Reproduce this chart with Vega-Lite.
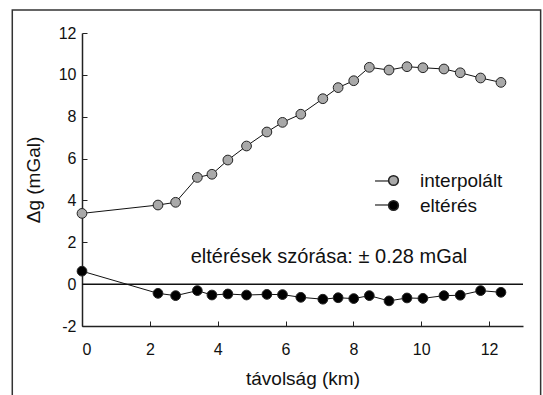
{
  "$schema": "https://vega.github.io/schema/vega-lite/v6.json",
  "width": 441,
  "height": 293,
  "autosize": {"type": "none"},
  "padding": {"left": 82, "top": 33, "right": 20, "bottom": 69},
  "background": "white",
  "config": {
    "view": {"stroke": null},
    "font": "Liberation Sans",
    "axis": {
      "domainColor": "#222",
      "domainWidth": 1.5,
      "tickColor": "#222",
      "tickWidth": 1,
      "labelFont": "Liberation Sans",
      "labelFontSize": 16,
      "labelColor": "#111",
      "titleFont": "Liberation Sans",
      "titleFontSize": 19,
      "titleFontWeight": "normal",
      "titleColor": "#111",
      "grid": false
    }
  },
  "datasets": {
    "pts": [
      {"x": 0, "y": 3.38, "series": "interpolált"},
      {"x": 2.24, "y": 3.78, "series": "interpolált"},
      {"x": 2.76, "y": 3.91, "series": "interpolált"},
      {"x": 3.40, "y": 5.10, "series": "interpolált"},
      {"x": 3.83, "y": 5.25, "series": "interpolált"},
      {"x": 4.30, "y": 5.93, "series": "interpolált"},
      {"x": 4.85, "y": 6.60, "series": "interpolált"},
      {"x": 5.45, "y": 7.27, "series": "interpolált"},
      {"x": 5.91, "y": 7.73, "series": "interpolált"},
      {"x": 6.45, "y": 8.12, "series": "interpolált"},
      {"x": 7.10, "y": 8.86, "series": "interpolált"},
      {"x": 7.55, "y": 9.39, "series": "interpolált"},
      {"x": 8.01, "y": 9.72, "series": "interpolált"},
      {"x": 8.47, "y": 10.36, "series": "interpolált"},
      {"x": 9.05, "y": 10.23, "series": "interpolált"},
      {"x": 9.58, "y": 10.39, "series": "interpolált"},
      {"x": 10.05, "y": 10.34, "series": "interpolált"},
      {"x": 10.67, "y": 10.28, "series": "interpolált"},
      {"x": 11.15, "y": 10.10, "series": "interpolált"},
      {"x": 11.75, "y": 9.85, "series": "interpolált"},
      {"x": 12.35, "y": 9.64, "series": "interpolált"},
      {"x": 0, "y": 0.62, "series": "eltérés"},
      {"x": 2.24, "y": -0.44, "series": "eltérés"},
      {"x": 2.76, "y": -0.55, "series": "eltérés"},
      {"x": 3.40, "y": -0.31, "series": "eltérés"},
      {"x": 3.83, "y": -0.52, "series": "eltérés"},
      {"x": 4.30, "y": -0.47, "series": "eltérés"},
      {"x": 4.85, "y": -0.52, "series": "eltérés"},
      {"x": 5.45, "y": -0.49, "series": "eltérés"},
      {"x": 5.91, "y": -0.50, "series": "eltérés"},
      {"x": 6.45, "y": -0.63, "series": "eltérés"},
      {"x": 7.10, "y": -0.72, "series": "eltérés"},
      {"x": 7.55, "y": -0.65, "series": "eltérés"},
      {"x": 8.01, "y": -0.69, "series": "eltérés"},
      {"x": 8.47, "y": -0.55, "series": "eltérés"},
      {"x": 9.05, "y": -0.80, "series": "eltérés"},
      {"x": 9.58, "y": -0.66, "series": "eltérés"},
      {"x": 10.05, "y": -0.68, "series": "eltérés"},
      {"x": 10.67, "y": -0.55, "series": "eltérés"},
      {"x": 11.15, "y": -0.53, "series": "eltérés"},
      {"x": 11.75, "y": -0.31, "series": "eltérés"},
      {"x": 12.35, "y": -0.39, "series": "eltérés"}
    ],
    "one": [{"label": "eltérések szórása: ± 0.28 mGal"}]
  },
  "layer": [
    {
      "data": {"name": "one"},
      "mark": {"type": "rect", "fill": null, "stroke": "#333", "strokeWidth": 1.5, "clip": false},
      "encoding": {
        "x": {"datum": -2.055, "type": "quantitative", "scale": {"domain": [0, 13], "nice": false, "zero": false}, "axis": {
          "title": "távolság (km)",
          "values": [0,1,2,3,4,5,6,7,8,9,10,11,12],
          "labelExpr": "datum.value % 2 === 0 ? toString(datum.value) : ''",
          "tickSize": {"condition": {"test": "datum.value % 2 === 0", "value": -5}, "value": -3},
          "labelPadding": 20,
          "titlePadding": 12
        }},
        "x2": {"datum": 13.52},
        "y": {"datum": 13.1, "type": "quantitative", "scale": {"domain": [-2, 12], "nice": false, "zero": false}, "axis": {
          "title": "Δg (mGal)",
          "values": [-2,-1,0,1,2,3,4,5,6,7,8,9,10,11,12],
          "labelExpr": "datum.value % 2 === 0 ? toString(datum.value) : ''",
          "tickSize": {"condition": {"test": "datum.value % 2 === 0", "value": -5}, "value": -3},
          "labelPadding": 11,
          "titlePadding": 15
        }},
        "y2": {"datum": -6}
      }
    },
    {
      "data": {"name": "one"},
      "mark": {"type": "rule", "color": "#111", "strokeWidth": 1.5},
      "encoding": {"y": {"datum": 0, "type": "quantitative"}}
    },
    {
      "data": {"name": "one"},
      "mark": {"type": "rule", "color": "#222", "strokeWidth": 1.2},
      "encoding": {"x": {"datum": 8.638, "type": "quantitative"}, "x2": {"datum": 9.287}, "y": {"datum": 4.929, "type": "quantitative"}}
    },
    {
      "data": {"name": "one"},
      "mark": {"type": "rule", "color": "#222", "strokeWidth": 1.2},
      "encoding": {"x": {"datum": 8.638, "type": "quantitative"}, "x2": {"datum": 9.287}, "y": {"datum": 3.782, "type": "quantitative"}}
    },
    {
      "data": {"name": "pts"},
      "mark": {"type": "line", "color": "#111", "strokeWidth": 1},
      "encoding": {
        "x": {"field": "x", "type": "quantitative"},
        "y": {"field": "y", "type": "quantitative"},
        "detail": {"field": "series"}
      }
    },
    {
      "data": {"name": "pts"},
      "mark": {"type": "point", "filled": true, "size": 95, "stroke": "#222", "strokeWidth": 1, "opacity": 1},
      "encoding": {
        "x": {"field": "x", "type": "quantitative"},
        "y": {"field": "y", "type": "quantitative"},
        "fill": {
          "field": "series", "type": "nominal",
          "scale": {"domain": ["interpolált", "eltérés"], "range": ["#a9a9a9", "#000000"]},
          "legend": {
            "title": null,
            "orient": "none",
            "legendX": 302,
            "legendY": 138,
            "padding": 0,
            "symbolSize": 95,
            "labelFont": "Liberation Sans",
            "labelFontSize": 19,
            "labelColor": "#111",
            "labelOffset": 17,
            "rowPadding": 5
          }
        }
      }
    },
    {
      "data": {"name": "one"},
      "mark": {"type": "text", "fontSize": 20, "font": "Liberation Sans", "color": "#111", "align": "center", "baseline": "middle"},
      "encoding": {"text": {"field": "label"}, "x": {"datum": 7.28, "type": "quantitative"}, "y": {"datum": 1.31, "type": "quantitative"}}
    }
  ]
}
